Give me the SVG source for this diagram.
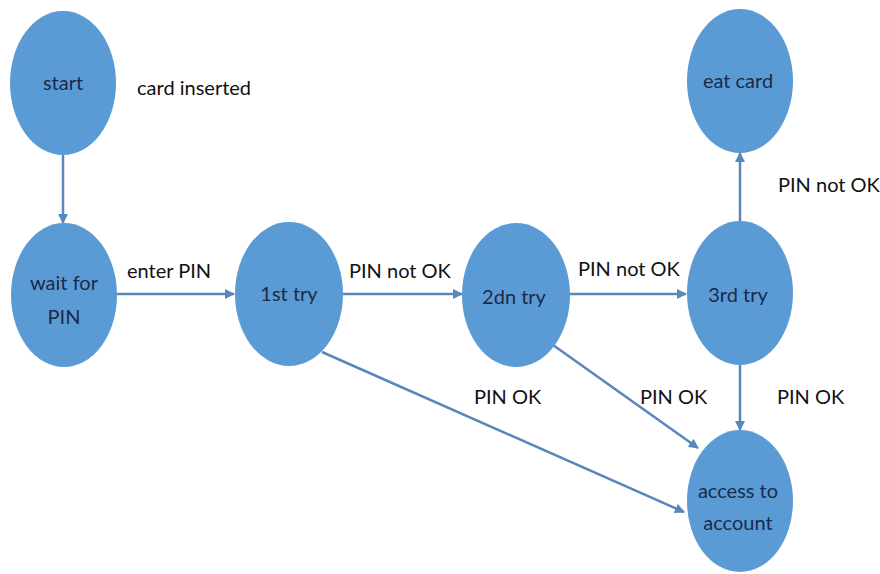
<svg xmlns="http://www.w3.org/2000/svg" width="880" height="574" viewBox="0 0 880 574">
  <style>
    .node { fill: #5b9bd5; }
    .nlabel { font-family: Lato, "Open Sans", sans-serif; font-size: 20px; fill: #1b2a4a; text-anchor: middle; dominant-baseline: central; }
    .elabel { font-family: Lato, "Open Sans", sans-serif; font-size: 20px; fill: #111; dominant-baseline: central; }
    .edge { stroke: #5887bb; stroke-width: 2.5; fill: none; marker-end: url(#arrow); }
  </style>
  <defs>
    <marker id="arrow" viewBox="0 0 10 10" refX="9" refY="5" markerWidth="4" markerHeight="4" orient="auto" markerUnits="strokeWidth">
      <path d="M0,0 L10,5 L0,10 z" fill="#5887bb"/>
    </marker>
  </defs>
  <rect width="880" height="574" fill="#ffffff"/>

  <g id="connectors">
    <line class="edge" x1="63" y1="155" x2="63" y2="223"/>
    <line class="edge" x1="117" y1="294" x2="234" y2="294"/>
    <line class="edge" x1="343" y1="294" x2="462" y2="294"/>
    <line class="edge" x1="570" y1="294" x2="686" y2="294"/>
    <line class="edge" x1="740" y1="221" x2="740" y2="153"/>
    <line class="edge" x1="740" y1="365" x2="740" y2="430"/>
    <line class="edge" x1="553" y1="345" x2="698" y2="448"/>
    <line class="edge" x1="322" y1="352" x2="684" y2="512"/>
  </g>

  <g id="start">
    <ellipse class="node" cx="63" cy="83" rx="53" ry="72"/>
    <text class="nlabel" x="63" y="82">start</text>
  </g>
  <g id="wait-for-pin">
    <ellipse class="node" cx="64" cy="295" rx="53" ry="72"/>
    <text class="nlabel" x="64" y="282">wait for</text>
    <text class="nlabel" x="64" y="316">PIN</text>
  </g>
  <g id="first-try">
    <ellipse class="node" cx="289" cy="294" rx="54" ry="72"/>
    <text class="nlabel" x="289" y="293">1st try</text>
  </g>
  <g id="second-try">
    <ellipse class="node" cx="516" cy="295" rx="54" ry="72"/>
    <text class="nlabel" x="514" y="296">2dn try</text>
  </g>
  <g id="third-try">
    <ellipse class="node" cx="740" cy="293" rx="53" ry="72"/>
    <text class="nlabel" x="738" y="294">3rd try</text>
  </g>
  <g id="eat-card">
    <ellipse class="node" cx="740" cy="81" rx="53" ry="72"/>
    <text class="nlabel" x="738" y="80">eat card</text>
  </g>
  <g id="access-to-account">
    <ellipse class="node" cx="740" cy="501" rx="53" ry="71"/>
    <text class="nlabel" x="738" y="490">access to</text>
    <text class="nlabel" x="738" y="522">account</text>
  </g>

  <g id="edge-labels">
    <text class="elabel" x="137" y="87">card inserted</text>
    <text class="elabel" x="127" y="270">enter PIN</text>
    <text class="elabel" x="349" y="270">PIN not OK</text>
    <text class="elabel" x="578" y="268">PIN not OK</text>
    <text class="elabel" x="778" y="184">PIN not OK</text>
    <text class="elabel" x="474" y="396">PIN OK</text>
    <text class="elabel" x="640" y="396">PIN OK</text>
    <text class="elabel" x="777" y="396">PIN OK</text>
  </g>
</svg>
